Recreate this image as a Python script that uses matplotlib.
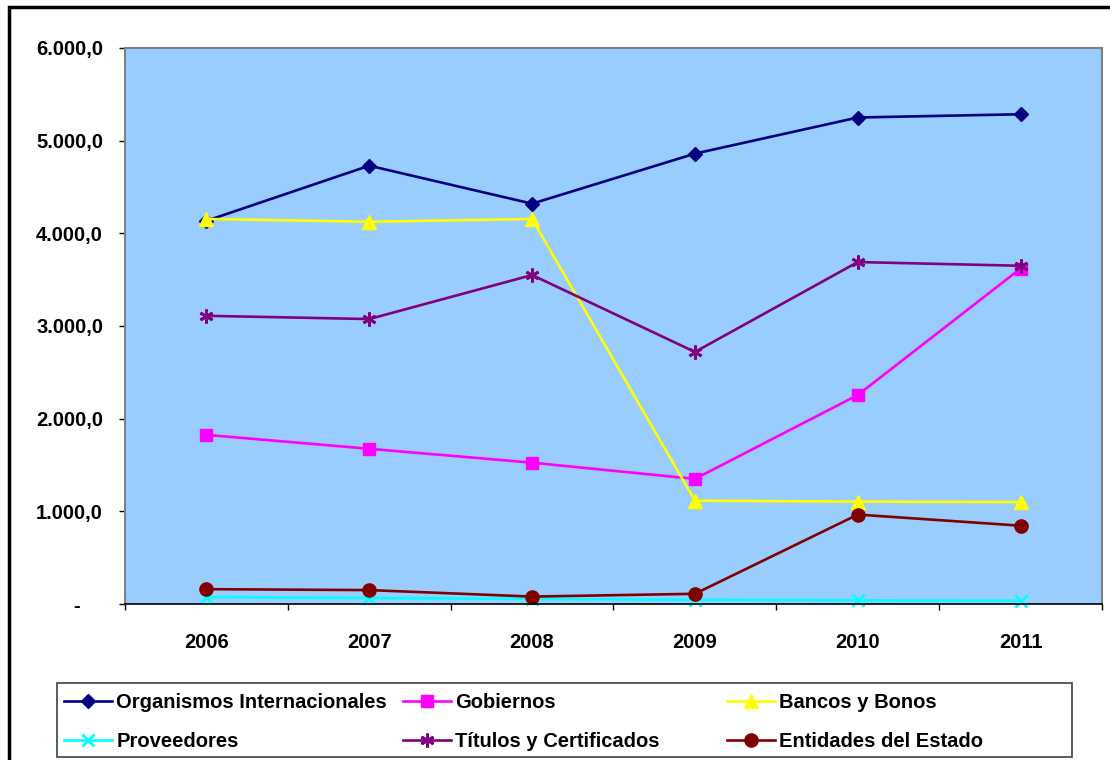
import matplotlib
matplotlib.use("Agg")
import matplotlib.pyplot as plt
from matplotlib.ticker import FuncFormatter, FixedLocator
from matplotlib.patches import Rectangle

years = ["2006", "2007", "2008", "2009", "2010", "2011"]
organismos = [4135, 4730, 4320, 4860, 5250, 5285]
gobiernos = [1825, 1675, 1525, 1350, 2255, 3620]
bancos = [4155, 4125, 4155, 1115, 1105, 1100]
proveedores = [75, 65, 55, 45, 40, 35]
titulos = [3110, 3075, 3550, 2720, 3690, 3650]
entidades = [160, 150, 80, 110, 965, 845]

W, H = 1110, 760
fig = plt.figure(figsize=(W / 100, H / 100), dpi=100)
plt.rcParams['font.family'] = ['Liberation Sans', 'DejaVu Sans']
FS = 14.5

def px(x0, y0, x1, y1):
    return [x0 / W, 1 - y1 / H, (x1 - x0) / W, (y1 - y0) / H]

ax = fig.add_axes(px(125, 48, 1102, 604))
ax.set_facecolor('#99CCFF')

x = list(range(len(years)))
series = [
    ("Organismos Internacionales", organismos, '#000080', dict(marker='D', ms=7.5)),
    ("Gobiernos", gobiernos, '#FF00FF', dict(marker='s', ms=9)),
    ("Bancos y Bonos", bancos, '#FFFF00', dict(marker='^', ms=10)),
    ("Proveedores", proveedores, '#00FFFF', dict(marker='x', ms=9, mew=2)),
    ("Títulos y Certificados", titulos, '#800080', dict(marker=(6, 2, 0), ms=10, mew=2)),
    ("Entidades del Estado", entidades, '#800000', dict(marker='o', ms=9.5)),
]
handles = {}
for name, vals, col, mk in series:
    ln, = ax.plot(x, vals, color=col, lw=1.9, mfc=col, mec=col, label=name,
                  clip_on=False, **mk)
    handles[name] = ln

ax.set_xlim(-0.5, len(years) - 0.5)
ax.set_ylim(0, 6000)
ax.yaxis.set_major_locator(FixedLocator([0, 1000, 2000, 3000, 4000, 5000, 6000]))

def yfmt(v, pos):
    if abs(v) < 1e-9:
        return "-    "
    s = f"{v:,.1f}"
    return s.replace(",", "X").replace(".", ",").replace("X", ".")
ax.yaxis.set_major_formatter(FuncFormatter(yfmt))

ax.set_xticks([i - 0.5 for i in range(len(years) + 1)])
ax.set_xticklabels([])
ax.set_xticks(x, minor=True)
ax.set_xticklabels(years, minor=True)
ax.tick_params(axis='x', which='major', length=4.5, width=1, color='black', direction='out')
ax.tick_params(axis='x', which='minor', length=0, pad=21, labelsize=FS)
ax.tick_params(axis='y', length=4.5, width=1, color='black', direction='out', pad=11.3, labelsize=FS)
for lab in ax.get_xticklabels(minor=True) + ax.get_yticklabels():
    lab.set_fontweight('bold')

for s in ['top', 'right', 'left']:
    ax.spines[s].set_color('#808080')
    ax.spines[s].set_linewidth(1.5)
ax.spines['bottom'].set_color('black')
ax.spines['bottom'].set_linewidth(1.2)

# figure outer border
fig.patches.append(Rectangle((9 / W, -0.1), 1.2, 1 - 7 / H + 0.1, transform=fig.transFigure,
                             fill=False, edgecolor='black', lw=2.5, zorder=0))
# legend box
lx0, ly0, lx1, ly1 = 57, 683, 1072, 757
fig.patches.append(Rectangle((lx0 / W, 1 - ly1 / H), (lx1 - lx0) / W, (ly1 - ly0) / H,
                             transform=fig.transFigure, fill=False, edgecolor='#404040', lw=1.2))

cols = [
    (64, ["Organismos Internacionales", "Proveedores"]),
    (403, ["Gobiernos", "Títulos y Certificados"]),
    (727, ["Bancos y Bonos", "Entidades del Estado"]),
]
for xp, names in cols:
    fig.legend([handles[n] for n in names], names, loc='center left',
               bbox_to_anchor=(xp / W, 1 - 722 / H), frameon=False,
               borderpad=0, borderaxespad=0, handlelength=2.4, handletextpad=0.2,
               labelspacing=0.95, prop=dict(size=FS, weight='bold'))

fig.savefig("out.png", dpi=100)
